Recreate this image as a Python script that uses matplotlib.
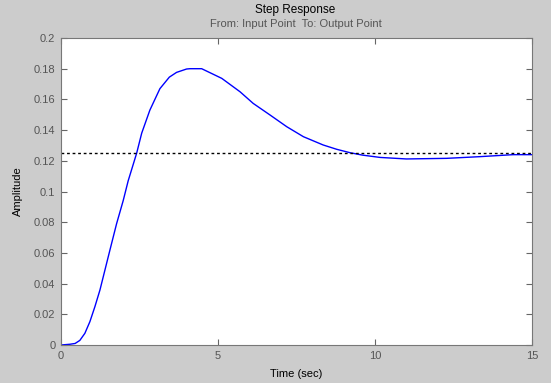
import matplotlib
matplotlib.use("Agg")
import matplotlib.pyplot as plt

# step response
t = [0.0, 0.29, 0.45, 0.6, 0.76, 0.92, 1.08, 1.24, 1.4, 1.56, 1.77, 1.98, 2.14,
     2.41, 2.57, 2.83, 3.15, 3.45, 3.68, 4.0, 4.11, 4.48, 5.12, 5.70, 6.12, 6.66,
     7.19, 7.72, 8.35, 8.78, 9.2, 9.6, 10.16, 11.0, 12.28, 13.34, 14.4, 15.0]
y = [0.0, 0.0005, 0.001, 0.003, 0.0076, 0.0152, 0.025, 0.0358, 0.0489, 0.062, 0.079,
     0.094, 0.107, 0.125, 0.138, 0.153, 0.167, 0.1745, 0.1776, 0.1798, 0.180, 0.180,
     0.1737, 0.165, 0.1574, 0.1498, 0.1422, 0.1357, 0.1303, 0.1275, 0.1253, 0.1237,
     0.1222, 0.1212, 0.1216, 0.1227, 0.124, 0.124]
final_value = 0.125

xticks = [0, 5, 10, 15]
yticks = [0, 0.02, 0.04, 0.06, 0.08, 0.1, 0.12, 0.14, 0.16, 0.18, 0.2]
ytick_labels = ["0", "0.02", "0.04", "0.06", "0.08", "0.1", "0.12", "0.14", "0.16", "0.18", "0.2"]

plt.rcParams['font.family'] = ['Liberation Sans', 'DejaVu Sans']

fig = plt.figure(figsize=(5.51, 3.83), dpi=100, facecolor='#cccccc')
ax = fig.add_axes([61 / 551, 38 / 383, 471 / 551, 307 / 383])
ax.set_facecolor('white')

ax.plot(t, y, color='#0000ff', lw=1.0)
ax.axhline(final_value, color='black', lw=1.0, ls=(0, (2, 2)))

ax.set_xlim(0, 15)
ax.set_ylim(0, 0.2)
ax.set_xticks(xticks)
ax.set_xticklabels([str(v) for v in xticks])
ax.set_yticks(yticks)
ax.set_yticklabels(ytick_labels)
ax.tick_params(direction='in', length=4, width=0.8, colors='#666666',
               labelcolor='#555555', labelsize=8, top=True, right=True, pad=4)
for s in ax.spines.values():
    s.set_color('#777777')
    s.set_linewidth(0.8)

ax.set_xlabel('Time (sec)', fontsize=8, color='black', labelpad=6)
ax.set_ylabel('Amplitude', fontsize=8, color='black', labelpad=8)

fig.text(0.5 + 20 / 551, 1 - 10 / 383, 'Step Response', ha='center', va='center',
         fontsize=8.5, color='black')
fig.text(0.5 + 20 / 551, 1 - 24 / 383, 'From: Input Point  To: Output Point',
         ha='center', va='center', fontsize=8, color='#555555')

fig.savefig('out.png', dpi=100, facecolor=fig.get_facecolor())
